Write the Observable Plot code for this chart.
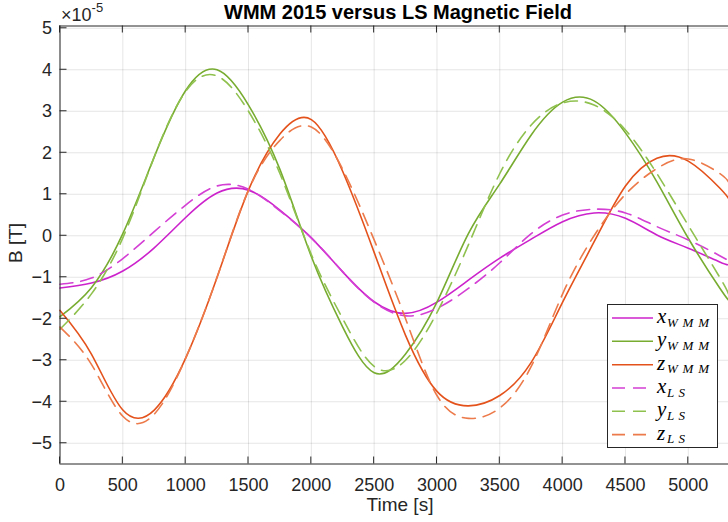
<!DOCTYPE html>
<html><head><meta charset="utf-8">
<script src="https://cdn.jsdelivr.net/npm/d3@7"></script>
<script src="https://cdn.jsdelivr.net/npm/@observablehq/plot@0.6"></script>
<style>
html,body{margin:0;padding:0;background:#fff;overflow:hidden;}
#chart{width:728px;height:522px;}
</style></head><body><div id="chart"></div>
<script>
// Time samples [s]
const time = [0,250,500,750,1000,1250,1500,1750,2000,2250,2500,2750,3000,3250,3500,3750,4000,4250,4500,4750,5000,5250,5320];
// Magnetic field components, units of 1e-5 T
const xWMM = [-1.26,-1.14,-0.85,-0.29,0.44,1.03,1.1,0.62,-0.05,-0.87,-1.59,-1.87,-1.6,-1.07,-0.54,-0.08,0.34,0.55,0.42,0.02,-0.3,-0.63,-0.7];
const yWMM = [-1.95,-1.25,0.05,1.9,3.5,4.0,3.15,1.6,-0.5,-2.2,-3.3,-2.85,-1.6,0.05,1.25,2.43,3.22,3.25,2.48,1.3,-0.06,-1.26,-1.55];
const zWMM = [-1.8,-2.85,-4.2,-4.2,-2.95,-1.0,1.1,2.45,2.8,1.55,-0.4,-2.4,-3.75,-4.1,-3.85,-3.05,-1.6,-0.15,1.2,1.87,1.8,1.15,0.9];
const xLS  = [-1.17,-1.02,-0.55,0.1,0.74,1.2,1.12,0.6,-0.05,-0.87,-1.6,-1.93,-1.75,-1.27,-0.65,0.05,0.5,0.64,0.55,0.22,-0.1,-0.48,-0.6];
const yLS  = [-2.25,-1.4,-0.05,1.9,3.48,3.85,3.0,1.5,-0.45,-2.0,-3.15,-3.0,-1.85,-0.22,1.5,2.67,3.2,3.15,2.55,1.5,0.25,-1.0,-1.4];
const zLS  = [-2.2,-3.1,-4.35,-4.3,-2.95,-1.0,1.1,2.3,2.62,1.6,-0.1,-2.0,-3.85,-4.4,-4.15,-3.15,-1.4,0.0,1.0,1.62,1.85,1.5,1.3];

const xTicks = [0,500,1000,1500,2000,2500,3000,3500,4000,4500,5000];
const yTicks = [-5,-4,-3,-2,-1,0,1,2,3,4,5];
const xDomain = [0, 5320];
const yDomain = [-5.5, 5.055];

const series = [
  {key:"xWMM", values:xWMM, color:"#cc22cc", dash:null,   sym:"x", sub:"WMM"},
  {key:"yWMM", values:yWMM, color:"#77ac30", dash:null,   sym:"y", sub:"WMM"},
  {key:"zWMM", values:zWMM, color:"#e4521c", dash:null,   sym:"z", sub:"WMM"},
  {key:"xLS",  values:xLS,  color:"#d43fd4", dash:"13,8", sym:"x", sub:"LS"},
  {key:"yLS",  values:yLS,  color:"#8fc14e", dash:"13,8", sym:"y", sub:"LS"},
  {key:"zLS",  values:zLS,  color:"#ec7a4a", dash:"13,8", sym:"z", sub:"LS"}
];

const ink = "#262626";
const W = 728, H = 522;

const lineMarks = series.map(s => Plot.line(
  time.map((t,i) => ({t, v: s.values[i]})),
  {x:"t", y:"v", stroke:s.color, strokeWidth:1.6, strokeDasharray:s.dash, curve:"natural"}
));

const chart = Plot.plot({
  width: W, height: H,
  marginLeft: 59.5, marginRight: 0, marginTop: 25.5, marginBottom: 58.5,
  style: {fontFamily: "'Liberation Sans', Arial, sans-serif", fontSize: "18px", color: ink, background: "#fff", overflow: "visible"},
  x: {domain: xDomain, ticks: xTicks},
  y: {domain: yDomain, ticks: yTicks},
  marks: [
    Plot.gridX(xTicks, {stroke:"#000", strokeOpacity:0.1}),
    Plot.gridY(yTicks, {stroke:"#000", strokeOpacity:0.1}),
    ...lineMarks,
    Plot.ruleY([yDomain[0]], {stroke: ink}),
    Plot.ruleY([yDomain[1]], {stroke: ink}),
    Plot.ruleX([xDomain[0]], {stroke: ink}),
    Plot.axisX(xTicks, {anchor:"bottom", tickSize:0, tickPadding:14, fill: ink, label:null, fontSize:18, tickFormat: d3.format("d")}),
    Plot.axisY(yTicks, {anchor:"left", tickSize:0, tickPadding:8, fill: ink, label:null, fontSize:18, tickFormat: d3.format("d")})
  ]
});
document.getElementById("chart").appendChild(chart);

const svg = d3.select(chart);
const sx = chart.scale("x"), sy = chart.scale("y");
const yBot = sy.apply(yDomain[0]), yTopPx = sy.apply(yDomain[1]), xLeft = sx.apply(xDomain[0]);
// inward tick marks (MATLAB style)
const tk = svg.append("g").attr("stroke", ink).attr("stroke-width", 1);
xTicks.forEach(v => {
  const px = sx.apply(v);
  tk.append("line").attr("x1", px).attr("x2", px).attr("y1", yBot).attr("y2", yBot - 7);
  tk.append("line").attr("x1", px).attr("x2", px).attr("y1", yTopPx).attr("y2", yTopPx + 7);
});
yTicks.forEach(v => {
  const py = sy.apply(v);
  tk.append("line").attr("x1", xLeft).attr("x2", xLeft + 7).attr("y1", py).attr("y2", py);
});

const font = "'Liberation Sans', Arial, sans-serif";
// title
svg.append("text").attr("x", 398).attr("y", 19).attr("text-anchor","middle")
  .attr("font-family", font).attr("font-size", 20).attr("font-weight","bold").attr("fill","#000")
  .text("WMM 2015 versus LS Magnetic Field");
// exponent
const ex = svg.append("text").attr("x", 61).attr("y", 21).attr("text-anchor","start")
  .attr("font-family", font).attr("font-size", 18).attr("fill", ink);
ex.append("tspan").text("\u00d710");
ex.append("tspan").attr("font-size", 13).attr("dy", -9).text("-5");
// axis labels
svg.append("text").attr("x", 400).attr("y", 511).attr("text-anchor","middle")
  .attr("font-family", font).attr("font-size", 19).attr("fill", ink).text("Time [s]");
svg.append("text").attr("transform","translate(22,243) rotate(-90)").attr("text-anchor","middle")
  .attr("font-family", font).attr("font-size", 19).attr("fill", ink).text("B [T]");

// legend
const lg = svg.append("g");
lg.append("rect").attr("x", 607.5).attr("y", 304.5).attr("width", 110).attr("height", 143)
  .attr("fill","#fff").attr("stroke", ink).attr("stroke-width", 1);
const rowY = [318, 341.3, 364.7, 388, 411.3, 434.6];
const serif = "'Liberation Serif', 'DejaVu Serif', serif";
series.forEach((s, i) => {
  const cy = rowY[i];
  lg.append("line").attr("x1", 612).attr("x2", 653).attr("y1", cy).attr("y2", cy)
    .attr("stroke", s.color).attr("stroke-width", 1.6).attr("stroke-dasharray", s.dash);
  lg.append("text").attr("x", 657).attr("y", cy + 5).attr("text-anchor","start")
    .attr("font-family", serif).attr("font-style","italic").attr("font-size", 21).attr("fill","#000")
    .text(s.sym);
  lg.append("text").attr("x", 667).attr("y", cy + 8.5).attr("text-anchor","start")
    .attr("font-family", serif).attr("font-style","italic").attr("font-size", 13).attr("fill","#000")
    .attr("textLength", s.sub === "WMM" ? 42 : 18).attr("lengthAdjust","spacing")
    .text(s.sub);
});
</script>
</body></html>
